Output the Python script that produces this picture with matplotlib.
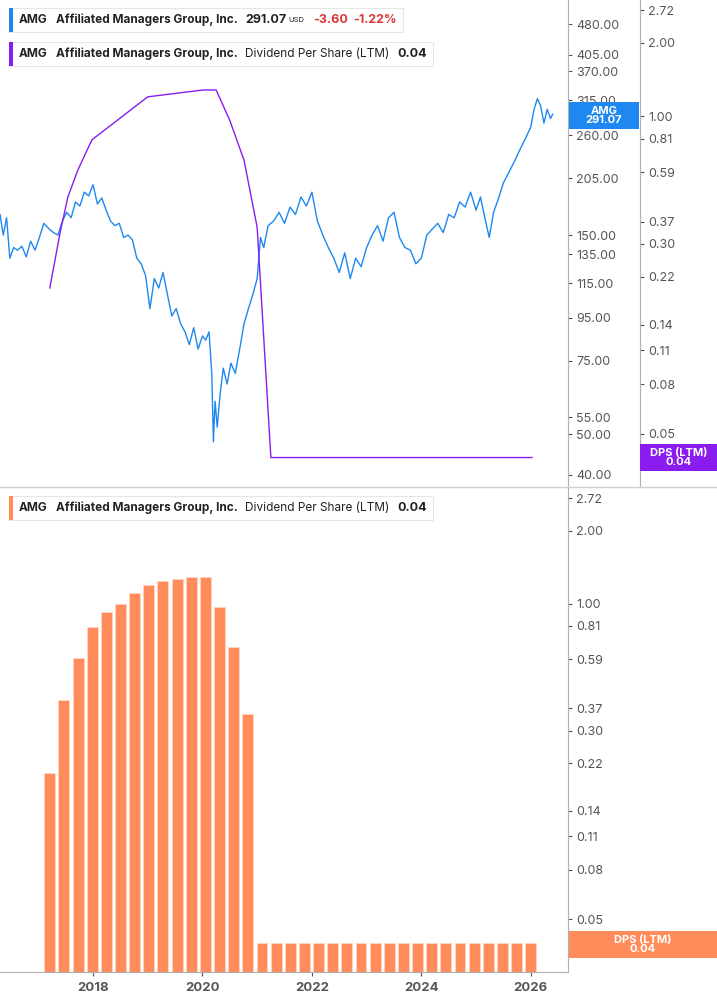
import numpy as np
import matplotlib.pyplot as plt
from matplotlib.patches import Rectangle
from matplotlib.ticker import FixedLocator, NullLocator

plt.rcParams['font.family'] = ['Inter', 'DejaVu Sans']

# price track (year, USD)
price_years = [2016.30, 2016.36, 2016.42, 2016.48, 2016.55, 2016.62, 2016.70, 2016.78, 2016.86,
               2016.94, 2017.02, 2017.10, 2017.20, 2017.28, 2017.36, 2017.44, 2017.52, 2017.60,
               2017.68, 2017.76, 2017.84, 2017.92, 2018.00, 2018.08, 2018.16, 2018.24, 2018.32,
               2018.40, 2018.48, 2018.56, 2018.64, 2018.72, 2018.80, 2018.88, 2018.96, 2019.04,
               2019.12, 2019.20, 2019.28, 2019.36, 2019.44, 2019.52, 2019.60, 2019.68, 2019.76,
               2019.84, 2019.92, 2020.00, 2020.06, 2020.12, 2020.17, 2020.20, 2020.23, 2020.27,
               2020.32, 2020.38, 2020.45, 2020.52, 2020.60, 2020.68, 2020.76, 2020.84, 2020.92,
               2021.00, 2021.06, 2021.12, 2021.20, 2021.30, 2021.40, 2021.50, 2021.60, 2021.70,
               2021.80, 2021.90, 2022.00, 2022.10, 2022.20, 2022.30, 2022.40, 2022.50, 2022.60,
               2022.70, 2022.80, 2022.90, 2023.00, 2023.10, 2023.20, 2023.30, 2023.40, 2023.50,
               2023.60, 2023.70, 2023.80, 2023.90, 2024.00, 2024.10, 2024.20, 2024.30, 2024.40,
               2024.50, 2024.60, 2024.70, 2024.80, 2024.90, 2025.00, 2025.08, 2025.16, 2025.24,
               2025.32, 2025.40, 2025.50, 2025.60, 2025.70, 2025.80, 2025.90, 2026.00, 2026.06,
               2026.12, 2026.18, 2026.24, 2026.30, 2026.36, 2026.40]
prices = [168, 150, 165, 132, 140, 138, 141, 133, 145, 138, 148, 160, 155, 152, 150, 162, 170,
          165, 180, 176, 190, 186, 198, 178, 184, 172, 162, 158, 160, 148, 150, 146, 132, 128,
          120, 100, 118, 112, 122, 108, 96, 100, 92, 88, 82, 90, 80, 86, 84, 88, 70, 48, 60,
          52, 62, 72, 66, 74, 70, 80, 92, 100, 108, 118, 148, 140, 158, 162, 170, 160, 175,
          168, 185, 176, 190, 162, 150, 140, 132, 122, 136, 118, 132, 126, 140, 150, 158, 145,
          165, 170, 148, 140, 138, 128, 132, 150, 155, 160, 152, 168, 165, 180, 175, 190, 172,
          185, 165, 148, 170, 182, 200, 212, 225, 240, 255, 272, 300, 318, 306, 278, 300, 285,
          292]

# DPS (LTM) line in the upper panel
dps_line_years = [2017.21, 2017.40, 2017.54, 2017.72, 2017.98, 2019.00, 2020.01, 2020.25,
                  2020.50, 2020.76, 2021.00, 2021.25, 2026.02]
dps_line = [0.198, 0.335, 0.466, 0.60, 0.80, 1.20, 1.28, 1.28, 0.96, 0.66, 0.35, 0.04, 0.04]

# quarterly DPS bars
bar_start = 2017.21
bar_step = 0.2585
dps_bars = [0.20, 0.40, 0.60, 0.80, 0.92, 1.00, 1.11, 1.20, 1.24, 1.27, 1.29, 1.29, 0.97,
            0.66, 0.35] + [0.04] * 20
bar_years = [bar_start + i * bar_step for i in range(len(dps_bars))]

price_ticks = [40, 50, 55, 75, 95, 115, 135, 150, 205, 260, 315, 370, 405, 480]
dps_ticks = [0.04, 0.05, 0.08, 0.11, 0.14, 0.22, 0.30, 0.37, 0.59, 0.81, 1.00, 2.00, 2.72]
year_ticks = [2018, 2020, 2022, 2024, 2026]

blue = '#1e88f0'
purple = '#8a1cf0'
orange = '#ff8c5a'
grey = '#555555'
spine_c = '#b0b0b0'

W, H = 717, 1005
fig = plt.figure(figsize=(W / 100, H / 100), dpi=100)
xr = 568 / W

ax1 = fig.add_axes([0, 1 - 487 / H, xr, 487 / H])
ax2 = ax1.twinx()
ax3 = fig.add_axes([0, 1 - 972 / H, xr, (972 - 488) / H])

xlim = (2016.30, 2026.68)
for ax in (ax1, ax2, ax3):
    ax.set_xlim(*xlim)
    ax.set_yscale('log')
    ax.patch.set_alpha(0)
    for s in ax.spines.values():
        s.set_visible(False)
    ax.tick_params(axis='y', which='both', direction='out', length=3, width=0.8,
                   color=grey, labelcolor=grey, labelsize=9, pad=3)

ax1.plot(price_years, prices, color=blue, lw=1.0)
ax1.set_ylim(37.4, 548)
ax1.yaxis.tick_right()
ax1.yaxis.set_major_locator(FixedLocator(price_ticks))
ax1.yaxis.set_minor_locator(NullLocator())
ax1.set_yticklabels([f'{t:.2f}' for t in price_ticks])
ax1.spines['right'].set_visible(True)
ax1.spines['right'].set_color(spine_c)
ax1.set_xticks([])

ax2.plot(dps_line_years, dps_line, color=purple, lw=1.0)
ax2.set_ylim(0.0303, 2.99)
ax2.spines['right'].set_visible(True)
ax2.spines['right'].set_position(('axes', 640 / 568))
ax2.spines['right'].set_color(spine_c)
ax2.yaxis.set_major_locator(FixedLocator(dps_ticks))
ax2.yaxis.set_minor_locator(NullLocator())
ax2.set_yticklabels([f'{t:.2f}' for t in dps_ticks])

base = 0.0303
ax3.bar(bar_years, [v - base for v in dps_bars], width=0.2, bottom=base, color=orange,
        edgecolor='#ffd5c2', linewidth=0.6)
ax3.set_ylim(base, 3.0)
ax3.yaxis.tick_right()
ax3.yaxis.set_major_locator(FixedLocator(dps_ticks))
ax3.yaxis.set_minor_locator(NullLocator())
ax3.set_yticklabels([f'{t:.2f}' for t in dps_ticks])
ax3.spines['right'].set_visible(True)
ax3.spines['bottom'].set_visible(True)
ax3.spines['right'].set_color(spine_c)
ax3.spines['bottom'].set_color(spine_c)
ax3.set_xticks(year_ticks)
ax3.tick_params(axis='x', length=3, color=grey, labelcolor=grey, labelsize=9.5, pad=4)
for lab in ax3.get_xticklabels():
    lab.set_fontweight('bold')

# separator line between panels
fig.add_artist(plt.Line2D([0, 1], [1 - 487.5 / H] * 2, color='#d0d0d0', lw=1))


def px(x, y):
    return x / W, 1 - y / H


def legend_box(y, color, parts):
    x0 = 19
    for text, weight, col, size, gap in parts:
        t = fig.text(*px(x0, y), text, fontsize=size, fontweight=weight, color=col,
                     va='center', ha='left')
        fig.canvas.draw()
        bb = t.get_window_extent()
        x0 += bb.width + gap
    fig.add_artist(Rectangle(px(9, y + 12), (x0 - 9 + 4) / W, 24 / H, facecolor='white',
                             edgecolor='#e6e6e6', lw=0.8, zorder=0.5))
    fig.add_artist(Rectangle(px(9, y + 12), 3.5 / W, 24 / H, facecolor=color, lw=0, zorder=0.6))


legend_box(20, blue, [('AMG', 'bold', '#222222', 8.5, 8), ('Affiliated Managers Group, Inc.', 'bold', '#222222', 8.5, 8),
                      ('291.07', 'bold', '#222222', 9, 2), ('USD', 'normal', '#222222', 5.5, 8),
                      ('-3.60', 'bold', '#d93838', 9, 6), ('-1.22%', 'bold', '#d93838', 9, 2)])
legend_box(54, purple, [('AMG', 'bold', '#222222', 8.5, 8), ('Affiliated Managers Group, Inc.', 'bold', '#222222', 8.5, 8),
                        ('Dividend Per Share (LTM)', 'normal', '#222222', 8.5, 8), ('0.04', 'bold', '#222222', 9, 2)])
legend_box(508, orange, [('AMG', 'bold', '#222222', 8.5, 8), ('Affiliated Managers Group, Inc.', 'bold', '#222222', 8.5, 8),
                         ('Dividend Per Share (LTM)', 'normal', '#222222', 8.5, 8), ('0.04', 'bold', '#222222', 9, 2)])


def value_tag(x0, x1, y0, y1, color, text):
    fig.add_artist(Rectangle(px(x0, y1), (x1 - x0) / W, (y1 - y0) / H, facecolor=color, lw=0, zorder=5))
    fig.text(*px((x0 + x1) / 2, (y0 + y1) / 2), text, color='white', fontsize=8, fontweight='bold',
             ha='center', va='center', linespacing=0.95, zorder=6)


value_tag(569, 639, 102, 129, blue, 'AMG\n291.07')
value_tag(640, 717, 444, 471, purple, 'DPS (LTM)\n0.04')
value_tag(569, 717, 931, 958, orange, 'DPS (LTM)\n0.04')

fig.savefig('out.png', dpi=100)
